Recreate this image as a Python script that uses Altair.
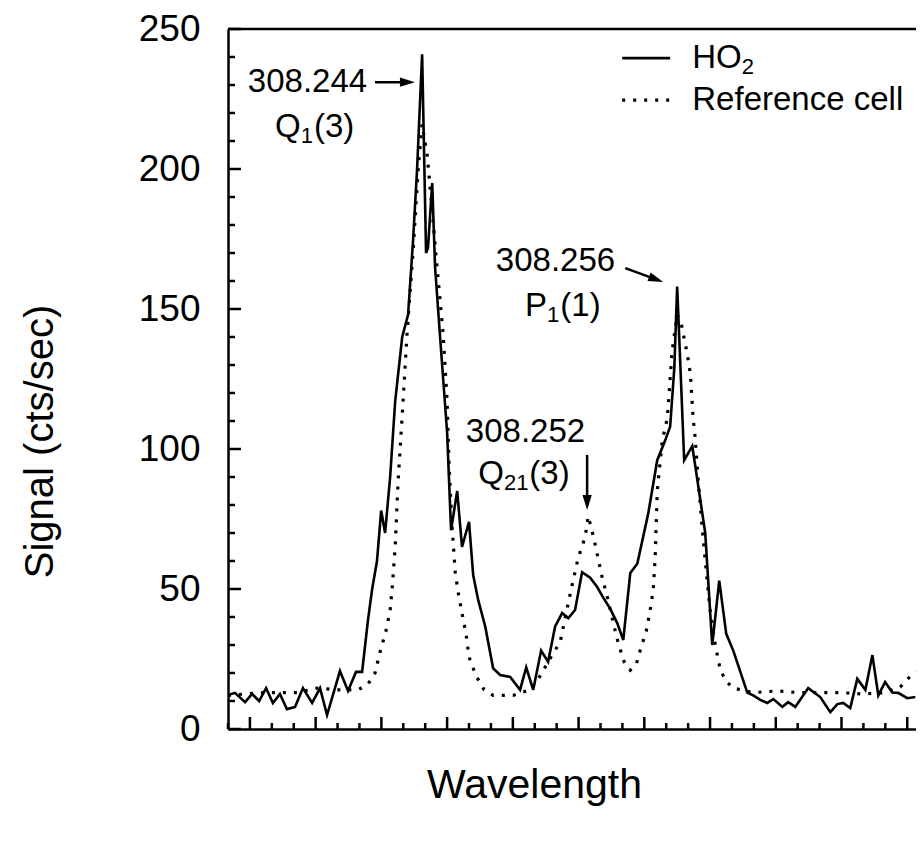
import altair as alt
import pandas as pd

# x in scan units (one minor tick = 1 unit), y in cts/sec
ho2_x = [0.00, 0.32, 0.78, 1.10, 1.42, 1.74, 2.05, 2.37, 2.69, 3.06, 3.42, 3.84, 4.20, 4.52,
         5.11, 5.48, 5.84, 6.12, 6.39, 6.58, 6.80, 6.99, 7.17, 7.40, 7.63, 7.95, 8.22, 8.45,
         8.63, 8.86, 9.04, 9.13, 9.32, 9.45, 9.68, 10.00, 10.18, 10.46, 10.68, 11.00, 11.19,
         11.42, 11.74, 12.10, 12.42, 12.88, 13.33, 13.61, 13.93, 14.29, 14.61, 14.93, 15.25,
         15.53, 15.84, 16.16, 16.53, 16.85, 17.12, 17.44, 17.76, 18.04, 18.36, 18.68, 19.18,
         19.59, 19.95, 20.18, 20.37, 20.50, 20.82, 21.19, 21.42, 21.78, 22.10, 22.42, 22.74,
         23.06, 23.70, 23.97, 24.29, 24.61, 24.89, 25.30, 25.57, 25.89, 26.48, 27.03, 27.49,
         27.81, 28.08, 28.40, 28.72, 29.09, 29.41, 29.68, 29.99, 30.32, 30.59, 31.00, 31.37]
ho2_y = [12.1, 12.9, 9.6, 12.5, 10.0, 14.6, 9.3, 12.5, 7.1, 7.9, 14.6, 9.3, 14.6, 5.0,
         20.7, 13.6, 20.4, 20.4, 39, 50, 60, 78, 70, 90, 117, 140, 148, 175,
         200, 241, 170, 172, 195, 165, 140, 106, 71, 85, 65, 74, 55,
         46, 36.6, 21.7, 19.3, 18.6, 14, 22, 14, 28, 24, 36.6, 41.4,
         39.6, 42.5, 56, 54, 50.7, 47, 43, 37.9, 31.8, 55.7, 59, 77,
         96, 103, 108, 129, 158, 96, 101, 89, 70, 30, 53, 34,
         28, 13, 12, 10.4, 9.3, 10.7, 7.9, 9.6, 7.9, 14.6, 11.4, 6,
         8.9, 9.3, 7.5, 17.9, 14, 26.4, 12, 16.8, 13, 12.9, 11, 11.4]

ref_x = [0.00, 0.78, 1.69, 3.15, 4.06, 4.98, 5.94, 6.39, 6.71, 6.94, 7.21, 7.40, 7.49, 7.63,
         7.76, 7.99, 8.17, 8.45, 8.68, 8.86, 9.09, 9.32, 9.54, 9.82, 10.00, 10.09, 10.23,
         10.37, 10.50, 10.68, 10.87, 11.00, 11.32, 11.69, 12.10, 13.01, 13.79, 14.25, 14.61,
         14.84, 15.16, 15.53, 15.75, 15.98, 16.30, 16.44, 16.67, 16.89, 17.08, 17.35, 17.58,
         17.81, 18.08, 18.36, 18.63, 18.81, 19.09, 19.27, 19.41, 19.50, 19.59, 19.82, 20.05,
         20.27, 20.50, 20.68, 20.96, 21.10, 21.23, 21.32, 21.46, 21.64, 21.83, 22.01, 22.24,
         22.47, 22.74, 23.06, 23.97, 25.07, 26.03, 27.03, 27.95, 28.95, 30.00, 30.68, 31.28, 31.69]
ref_y = [12, 12.5, 13, 13, 14.6, 14, 14, 16, 20, 27.5, 35, 42.5, 50, 65,
         88, 117, 141, 171, 200, 216, 205, 185, 165, 141, 117, 94, 72,
         56, 49, 41.4, 33.6, 25.7, 19, 14, 12, 12, 14, 19, 24,
         27, 31, 45, 53, 61, 68.6, 76, 69, 61, 54, 46, 38,
         30.7, 24, 21, 23, 28, 35, 42.5, 50, 62, 85, 103, 111,
         135, 148, 145, 134, 127, 111, 104, 89, 72, 56, 42, 30,
         21, 17, 14.6, 13, 13.6, 13, 13, 13, 12.5, 13, 15, 20, 21]

y_major = [0, 50, 100, 150, 200, 250]
y_minor = [10, 20, 30, 40, 60, 70, 80, 90, 110, 120, 130, 140, 160, 170, 180, 190, 210, 220, 230, 240]
x_major = [1, 4, 7, 10, 13, 16, 19, 22, 25, 28, 31]
x_minor = [0, 2, 3, 5, 6, 8, 9, 11, 12, 14, 15, 17, 18, 20, 21, 23, 24, 26, 27, 29, 30]

# wavelength labels (right aligned at x)
wl_text = ["308.244", "308.256", "308.252"]
wl_x = [6.35, 17.67, 16.30]
wl_y = [231, 167, 106]

# line labels with subscripts: main part, subscript, tail; left edge at x
lab_main = ["Q", "P", "Q", "HO", "Reference cell"]
lab_sub = ["1", "1", "21", "2", ""]
lab_tail = ["(3)", "(1)", "(3)", "", ""]
lab_x = [2.15, 13.56, 11.42, 21.19, 21.19]
lab_y = [215, 151, 91, 239.6, 224.6]

# arrow shafts and heads
arrow_x = [6.71, 8.19, 18.13, 19.54, 16.39, 16.39]
arrow_y = [231, 231, 164.6, 160.6, 97.9, 80.9]
arrow_id = ["a", "a", "b", "b", "c", "c"]
head_x = [8.19, 19.54, 16.39]
head_y = [231, 160.6, 80.9]
head_angle = [0, 20, 90]
HEAD = "M-1,-0.62L1,0L-1,0.62Z"

leg_solid_x = [17.99, 20.18]
leg_solid_y = [239.6, 239.6]
leg_dot_x = [17.99, 20.18]
leg_dot_y = [224.6, 224.6]

W, H = 688, 700
XD = [0, 31.4]
FONT = "Liberation Sans"
FS = 33      # annotation font size
FSS = 22     # subscript font size

xs = alt.Scale(domain=XD, nice=False, zero=False)
ys = alt.Scale(domain=[0, 250], nice=False)

ho2 = pd.DataFrame({"x": ho2_x, "y": ho2_y})
ref = pd.DataFrame({"x": ref_x, "y": ref_y})

base_x_axis = alt.Axis(labels=False, ticks=False, tickSize=0, domainColor="black", domainWidth=2.5,
                       grid=False, title="Wavelength", titleFont=FONT, titleFontSize=41,
                       titleFontWeight="normal", titleColor="black", titleX=306, titleY=56,
                       titleAlign="center", titleBaseline="middle")
base_y_axis = alt.Axis(values=y_major, ticks=False, tickSize=0, domainColor="black", domainWidth=2.5,
                       grid=False, labelFont=FONT, labelFontSize=37, labelColor="black",
                       labelPadding=28, title="Signal (cts/sec)", titleFont=FONT, titleFontSize=40,
                       titleFontWeight="normal", titleColor="black", titleX=-188, titleY=412,
                       titleAngle=-90, titleAlign="center", titleBaseline="middle")

line_ho2 = alt.Chart(ho2).mark_line(color="black", strokeWidth=2.6, clip=True).encode(
    x=alt.X("x:Q", scale=xs, axis=base_x_axis),
    y=alt.Y("y:Q", scale=ys, axis=base_y_axis),
)
line_ref = alt.Chart(ref).mark_line(color="black", strokeWidth=3.2, strokeDash=[3, 8], clip=True).encode(
    x=alt.X("x:Q", scale=xs), y=alt.Y("y:Q", scale=ys)
)

top = alt.Chart(pd.DataFrame({"y": [250]})).mark_rule(color="black", strokeWidth=2.5).encode(
    y=alt.Y("y:Q", scale=ys), x=alt.value(0), x2=alt.value(W)
)

ytm = alt.Chart(pd.DataFrame({"y": y_major})).mark_rule(color="black", strokeWidth=2.5).encode(
    y=alt.Y("y:Q", scale=ys), x=alt.value(0), x2=alt.value(13))
ytn = alt.Chart(pd.DataFrame({"y": y_minor})).mark_rule(color="black", strokeWidth=2.5).encode(
    y=alt.Y("y:Q", scale=ys), x=alt.value(0), x2=alt.value(7))
xtm = alt.Chart(pd.DataFrame({"x": x_major})).mark_rule(color="black", strokeWidth=2.5).encode(
    x=alt.X("x:Q", scale=xs), y=alt.value(H), y2=alt.value(H - 12))
xtn = alt.Chart(pd.DataFrame({"x": x_minor})).mark_rule(color="black", strokeWidth=2.5).encode(
    x=alt.X("x:Q", scale=xs), y=alt.value(H), y2=alt.value(H - 6))

texts = []
wl = pd.DataFrame({"t": wl_text, "x": wl_x, "y": wl_y})
texts.append(alt.Chart(wl).mark_text(font=FONT, fontSize=FS, color="black", align="right",
                                     baseline="middle").encode(
    x=alt.X("x:Q", scale=xs), y=alt.Y("y:Q", scale=ys), text="t:N"))

# approximate advance widths (em) of Liberation Sans glyphs, used for pixel offsets
ADV = {"Q": 0.778, "P": 0.667, "H": 0.722, "O": 0.778, "1": 0.556, "2": 0.556}
for m, s, t, x, y in zip(lab_main, lab_sub, lab_tail, lab_x, lab_y):
    d = pd.DataFrame({"x": [x], "y": [y]})
    enc = dict(x=alt.X("x:Q", scale=xs), y=alt.Y("y:Q", scale=ys))
    texts.append(alt.Chart(d).mark_text(font=FONT, fontSize=FS, color="black", align="left",
                                        baseline="middle", text=m).encode(**enc))
    if s:
        wm = sum(ADV.get(c, 0.6) for c in m) * FS
        texts.append(alt.Chart(d).mark_text(font=FONT, fontSize=FSS, color="black", align="left",
                                            baseline="middle", text=s, dx=wm, dy=9).encode(**enc))
        ws = sum(ADV.get(c, 0.556) for c in s) * FSS
        if t:
            texts.append(alt.Chart(d).mark_text(font=FONT, fontSize=FS, color="black", align="left",
                                                baseline="middle", text=t, dx=wm + ws + 1).encode(**enc))

arrows = alt.Chart(pd.DataFrame({"x": arrow_x, "y": arrow_y, "id": arrow_id})).mark_line(
    color="black", strokeWidth=2.5).encode(
    x=alt.X("x:Q", scale=xs), y=alt.Y("y:Q", scale=ys), detail="id:N")
heads = alt.Chart(pd.DataFrame({"x": head_x, "y": head_y, "a": head_angle})).mark_point(
    filled=True, color="black", opacity=1, size=225, shape=HEAD).encode(
    x=alt.X("x:Q", scale=xs), y=alt.Y("y:Q", scale=ys),
    angle=alt.Angle("a:Q", scale=None))

leg1 = alt.Chart(pd.DataFrame({"x": leg_solid_x, "y": leg_solid_y})).mark_line(
    color="black", strokeWidth=2.6).encode(x=alt.X("x:Q", scale=xs), y=alt.Y("y:Q", scale=ys))
leg2 = alt.Chart(pd.DataFrame({"x": leg_dot_x, "y": leg_dot_y})).mark_line(
    color="black", strokeWidth=3.2, strokeDash=[3, 8]).encode(x=alt.X("x:Q", scale=xs), y=alt.Y("y:Q", scale=ys))

chart = alt.layer(line_ref, line_ho2, top, ytm, ytn, xtm, xtn, arrows, heads, leg1, leg2, *texts).properties(
    width=W, height=H,
    autosize=alt.AutoSizeParams(type="none"),
    padding={"left": 220, "top": 21, "right": 0, "bottom": 111},
).configure_view(stroke=None).configure(background="white")

chart.save("out.html", embed_options={"renderer": "svg", "actions": False})
